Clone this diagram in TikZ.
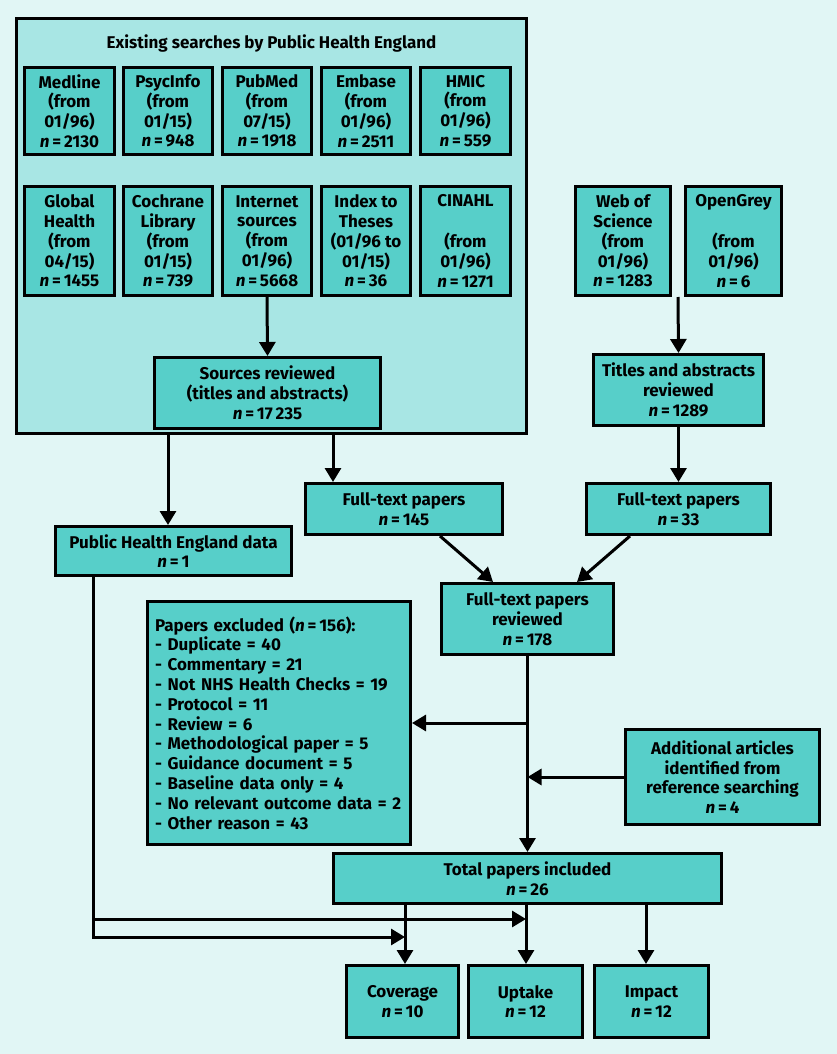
\documentclass[tikz,border=0pt]{standalone}
\usepackage{fontspec}
\setmainfont{Fira Sans}
\usetikzlibrary{arrows.meta}
\definecolor{bgc}{HTML}{E1F6F5}
\definecolor{outerc}{HTML}{A8E6E4}
\definecolor{boxc}{HTML}{57CFC9}
\newcommand{\nval}{\textit{n}\,=\,}
\begin{document}
\begin{tikzpicture}[x=1pt,y=-1pt,
  txt/.style={font=\fontsize{17}{19.8}\selectfont\bfseries},
  box/.style={draw, line width=3pt, fill=boxc, align=center, inner sep=0pt, txt},
  arr/.style={line width=3pt, -{Triangle[width=16pt,length=14pt]}},
  conn/.style={line width=3pt}]
\fill[bgc] (0,0) rectangle (837,1054);
\useasboundingbox (0,0) rectangle (837,1054);
% outer group
\node[draw, line width=3pt, fill=outerc, minimum width=510pt, minimum height=415pt, inner sep=0pt] (bigbox) at (271.5,226) {};
\node[txt] (title) at (271.5,43) {Existing searches by Public Health England};
% row 1
\node[box, minimum width=90pt, minimum height=87pt] (medline) at (69.5,111) {Medline\\(from\\01/96)\\\nval 2130};
\node[box, minimum width=89pt, minimum height=87pt] (psyc) at (168,111) {PsycInfo\\(from\\01/15)\\\nval 948};
\node[box, minimum width=89pt, minimum height=87pt] (pubmed) at (267,111) {PubMed\\(from\\07/15)\\\nval 1918};
\node[box, minimum width=89pt, minimum height=87pt] (embase) at (366,111) {Embase\\(from\\01/96)\\\nval 2511};
\node[box, minimum width=90pt, minimum height=87pt] (hmic) at (465.5,111) {HMIC\\(from\\01/96)\\\nval 559};
% row 2
\node[box, minimum width=90pt, minimum height=109pt] (global) at (69.5,241) {Global\\Health\\(from\\04/15)\\\nval 1455};
\node[box, minimum width=89pt, minimum height=109pt] (cochrane) at (168,241) {Cochrane\\Library\\(from\\01/15)\\\nval 739};
\node[box, minimum width=89pt, minimum height=109pt] (internet) at (267,241) {Internet\\sources\\(from\\01/96)\\\nval 5668};
\node[box, minimum width=89pt, minimum height=109pt] (index) at (366,241) {Index to\\Theses\\(01/96 to\\01/15)\\\nval 36};
\node[box, minimum width=90pt, minimum height=109pt] (cinahl) at (465.5,241) {CINAHL\\\strut\\(from\\01/96)\\\nval 1271};
\node[box, minimum width=95pt, minimum height=109pt] (wos) at (623,241) {Web of\\Science\\(from\\01/96)\\\nval 1283};
\node[box, minimum width=96pt, minimum height=109pt] (opengrey) at (733.5,241) {OpenGrey\\\strut\\(from\\01/96)\\\nval 6};
% middle
\node[box, minimum width=226pt, minimum height=71pt] (sources) at (267.5,393) {Sources reviewed\\(titles and abstracts)\\\nval 17\,235};
\node[box, minimum width=170pt, minimum height=71pt] (titles) at (678.5,390) {Titles and abstracts\\reviewed\\\nval 1289};
\node[box, minimum width=236pt, minimum height=49pt] (phe) at (173.5,551) {Public Health England data\\\nval 1};
\node[box, minimum width=197pt, minimum height=51pt] (ft145) at (404,509) {Full-text papers\\\nval 145};
\node[box, minimum width=184pt, minimum height=51pt] (ft33) at (678.5,509) {Full-text papers\\\nval 33};
\node[box, minimum width=172pt, minimum height=71pt] (ftr) at (527.5,619) {Full-text papers\\reviewed\\\nval 178};
\node[box, minimum width=263pt, minimum height=243pt, align=left, text width=248pt] (excl) at (279,723) {Papers excluded (\textit{n}\,=\,156):\\- Duplicate = 40\\- Commentary = 21\\- Not NHS Health Checks = 19\\- Protocol = 11\\- Review = 6\\- Methodological paper = 5\\- Guidance document = 5\\- Baseline data only = 4\\- No relevant outcome data = 2\\- Other reason = 43};
\node[box, minimum width=194pt, minimum height=95pt] (add) at (722.5,777) {Additional articles\\identified from\\reference searching\\\nval 4};
\node[box, minimum width=388pt, minimum height=50pt] (total) at (527.5,878.5) {Total papers included\\\nval 26};
\node[box, minimum width=112pt, minimum height=72pt] (coverage) at (402.5,1001.5) {Coverage\\\nval 10};
\node[box, minimum width=114pt, minimum height=72pt] (uptake) at (525.5,1001.5) {Uptake\\\nval 12};
\node[box, minimum width=114pt, minimum height=72pt] (impact) at (651.5,1001.5) {Impact\\\nval 12};
% helper coordinates
\coordinate (xa) at (168,0);
\coordinate (xb) at (333,0);
\coordinate (xc) at (405,0);
\coordinate (xd) at (526,0);
\coordinate (xe) at (646,0);
\coordinate (xf) at (93,0);
\coordinate (xg) at (440,0);
\coordinate (xh) at (493,0);
\coordinate (xi) at (630,0);
\coordinate (xj) at (577,0);
\coordinate (wg) at (678,297);
\coordinate (j1) at (93,937);
\coordinate (j2) at (93,919);
% connectors
\draw[arr] (internet.south) -- (sources.north);
\draw[arr] (wg) -- (titles.north);
\draw[arr] (bigbox.south -| xa) -- (phe.north -| xa);
\draw[arr] (bigbox.south -| xb) -- (ft145.north -| xb);
\draw[arr] (titles.south) -- (ft33.north -| titles.south);
\draw[arr] (ft145.south -| xg) -- (ftr.north -| xh);
\draw[arr] (ft33.south -| xi) -- (ftr.north -| xj);
\draw[arr] (ftr.south) -- (total.north);
\draw[arr] (ftr.south |- excl.east) -- (excl.east);
\draw[arr] (add.west) -- (add.west -| ftr.south);
\draw[arr] (total.south -| xc) -- (coverage.north -| xc);
\draw[arr] (total.south -| xd) -- (uptake.north -| xd);
\draw[arr] (total.south -| xe) -- (impact.north -| xe);
\draw[arr] (phe.south -| xf) -- (j1) -- (j1 -| xc);
\draw[arr] (j2) -- (j2 -| xd);
\end{tikzpicture}
\end{document}
